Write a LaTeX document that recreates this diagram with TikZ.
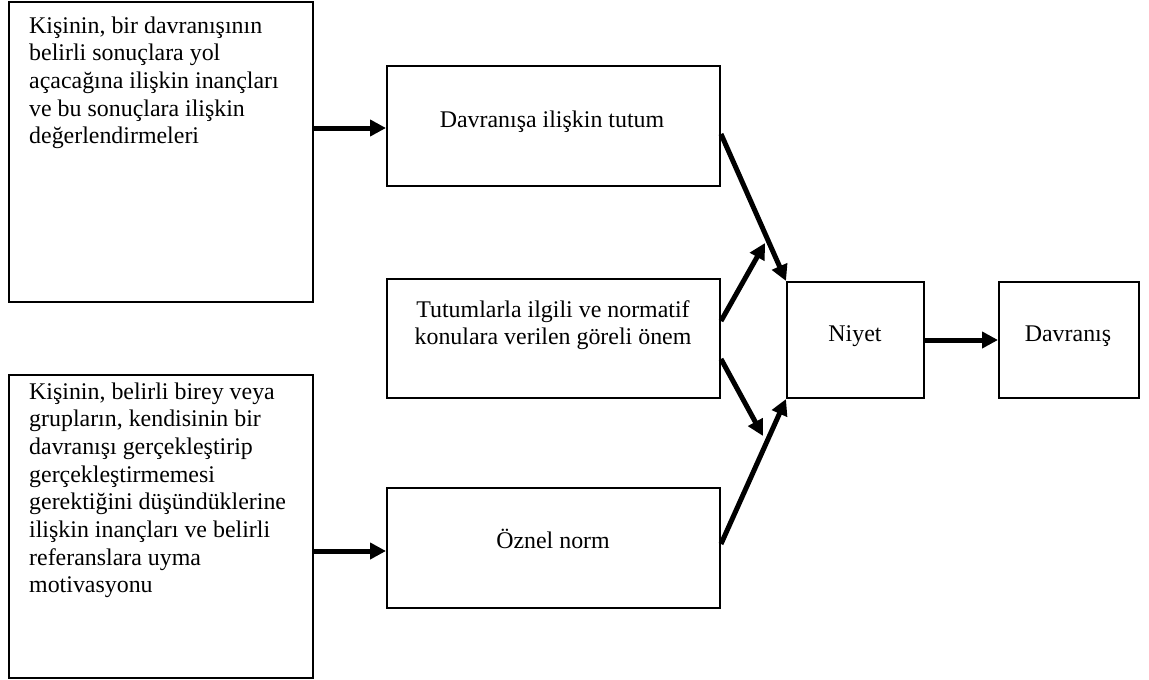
\documentclass[tikz,border=0pt]{standalone}
\usepackage{fontspec}
\setmainfont{Liberation Serif}
\usetikzlibrary{arrows.meta,calc}
\begin{document}
\begin{tikzpicture}[x=1pt,y=-1pt,
  box/.style={draw,line width=2pt,inner sep=0pt,anchor=north west},
  txt/.style={font=\fontsize{23.9}{27.7}\selectfont,inner sep=0pt},
  arr/.style={line width=5pt,-{Triangle[length=16pt,width=16pt]}}]
\useasboundingbox (0,0) rectangle (1149,680);

% boxes
\node[box,minimum width=304pt,minimum height=300pt] (A) at (8,1) {};
\node[box,minimum width=304pt,minimum height=303pt] (D) at (8,374) {};
\node[box,minimum width=333pt,minimum height=120pt] (B) at (386,65) {};
\node[box,minimum width=333pt,minimum height=119pt] (C) at (386,278) {};
\node[box,minimum width=333pt,minimum height=120pt] (E) at (386,487) {};
\node[box,minimum width=137pt,minimum height=116pt] (N) at (786,281) {};
\node[box,minimum width=140pt,minimum height=116pt] (V) at (998,281) {};

% texts (base anchor of a multi-line node sits on its last line)
\node[txt,anchor=base west,align=left] (At) at (29,143.8)
  {Kişinin, bir davranışının\\belirli sonuçlara yol\\açacağına ilişkin inançları\\ve bu sonuçlara ilişkin\\değerlendirmeleri};
\node[txt,anchor=base west,align=left] (Dt) at (29,592.9)
  {Kişinin, belirli birey veya\\grupların, kendisinin bir\\davranışı gerçekleştirip\\gerçekleştirmemesi\\gerektiğini düşündüklerine\\ilişkin inançları ve belirli\\referanslara uyma\\motivasyonu};
\node[txt,anchor=base] (Bt) at (552,127) {Davranışa ilişkin tutum};
\node[txt,anchor=base,align=center] (Ct) at (553,344.7)
  {Tutumlarla ilgili ve normatif\\konulara verilen göreli önem};
\node[txt,anchor=base] (Et) at (553,548) {Öznel norm};
\node[txt,anchor=base] (Nt) at (855,341) {Niyet};
\node[txt,anchor=base] (Vt) at (1068,341) {Davranış};

% connectors
\coordinate (up) at (765,243);
\coordinate (dn) at (763,436);
\draw[arr] ([yshift=-2pt]A.east |- B.west) -- ([yshift=-2pt]B.west);
\draw[arr] ([yshift=-3pt]D.east |- E.west) -- ([yshift=-3pt]E.west);
\draw[arr] ([yshift=-8pt]B.east) -- (N.north west);
\draw[arr] ([yshift=17.5pt]C.east) -- (up);
\draw[arr] ([yshift=-20.5pt]C.east) -- (dn);
\draw[arr] ([yshift=4pt]E.east) -- (N.south west);
\draw[arr] (N.east) -- (V.west);
\end{tikzpicture}
\end{document}
